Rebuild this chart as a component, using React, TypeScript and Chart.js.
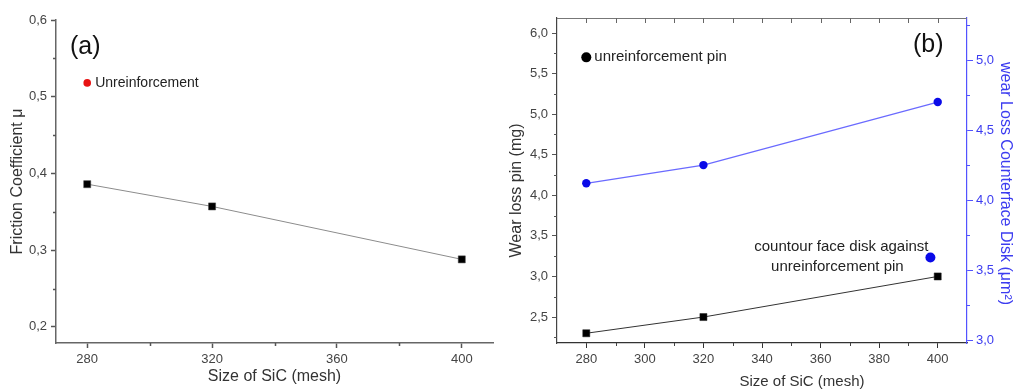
import React, { useEffect, useRef } from 'react';
import { Chart, registerables } from 'chart.js';
Chart.register(...registerables);

const FONT = "'Liberation Sans', Arial, sans-serif";

// ---------- (a) friction coefficient ----------
const meshA = [280, 320, 400];
const frictionA = [0.386, 0.357, 0.288];
const unreinfMeshA = [280];
const unreinfFrictionA = [0.518];
const xTicksA = [280, 320, 360, 400];
const xMinorA = [300, 340, 380];
const yTicksA = [0.2, 0.3, 0.4, 0.5, 0.6];
const yMinorA = [0.25, 0.35, 0.45, 0.55];

// ---------- (b) wear loss ----------
const meshB = [280, 320, 400];
const wearPinB = [2.3, 2.5, 3.0];
const wearDiskB = [4.12, 4.25, 4.7];
const unreinfPinMesh = [280];
const unreinfPinWear = [5.7];
const unreinfDiskMesh = [397.5];
const unreinfDiskWear = [3.59];
const xTicksB = [280, 300, 320, 340, 360, 380, 400];
const xMinorB = [290, 310, 330, 350, 370, 390];
const xTopB = [280, 290, 300, 310, 320, 330, 340, 350, 360, 370, 380, 390, 400];
const yTicksB = [2.5, 3.0, 3.5, 4.0, 4.5, 5.0, 5.5, 6.0];
const yMinorB = [2.25, 2.75, 3.25, 3.75, 4.25, 4.75, 5.25, 5.75];
const y2TicksB = [3.0, 3.5, 4.0, 4.5, 5.0];
const y2MinorB = [3.25, 3.75, 4.25, 4.75, 5.25];

const BLUE_PT = '#0a0ae8';
const BLUE_LINE = '#6a6aff';
const BLUE_AXIS = '#5252ff';
const BLUE_TEXT = '#3c3cf0';

const fmt = (v: number) => v.toFixed(1).replace('.', ',');

function drawTickSet(
  ctx: CanvasRenderingContext2D,
  side: 'left' | 'right' | 'bottom' | 'top',
  scale: any,
  values: number[],
  area: any,
  len: number,
  color: string,
  width: number
) {
  ctx.save();
  ctx.strokeStyle = color;
  ctx.lineWidth = width;
  ctx.beginPath();
  for (const v of values) {
    const p = Math.round(scale.getPixelForValue(v)) + 0.5;
    if (side === 'left') {
      ctx.moveTo(area.left, p);
      ctx.lineTo(area.left - len, p);
    } else if (side === 'right') {
      ctx.moveTo(area.right, p);
      ctx.lineTo(area.right + len, p);
    } else if (side === 'bottom') {
      ctx.moveTo(p, area.bottom);
      ctx.lineTo(p, area.bottom + len);
    } else {
      ctx.moveTo(p, area.top);
      ctx.lineTo(p, area.top + len);
    }
  }
  ctx.stroke();
  ctx.restore();
}

const decoA = {
  id: 'decoA',
  afterDraw(chart: any) {
    const { ctx, chartArea, scales } = chart;
    const x = scales.x;
    const y = scales.y;
    drawTickSet(ctx, 'bottom', x, xMinorA, chartArea, 3, '#555', 1.5);
    drawTickSet(ctx, 'left', y, yMinorA, chartArea, 3, '#555', 1.5);
    ctx.save();
    ctx.textBaseline = 'middle';
    ctx.textAlign = 'left';
    ctx.fillStyle = '#111';
    ctx.font = `25px ${FONT}`;
    ctx.fillText('(a)', chartArea.left + 14, chartArea.top + 27);
    const px = x.getPixelForValue(unreinfMeshA[0]);
    const py = y.getPixelForValue(unreinfFrictionA[0]);
    ctx.font = `14px ${FONT}`;
    ctx.fillStyle = '#222';
    ctx.fillText('Unreinforcement', px + 8, py);
    ctx.restore();
  },
};

const decoB = {
  id: 'decoB',
  afterDraw(chart: any) {
    const { ctx, chartArea, scales } = chart;
    const x = scales.x;
    const y = scales.y;
    const y2 = scales.y2;
    // top frame
    ctx.save();
    ctx.strokeStyle = '#777';
    ctx.lineWidth = 1;
    ctx.beginPath();
    ctx.moveTo(chartArea.left, Math.round(chartArea.top) + 0.5);
    ctx.lineTo(chartArea.right, Math.round(chartArea.top) + 0.5);
    ctx.stroke();
    ctx.restore();
    drawTickSet(ctx, 'top', x, xTopB, chartArea, 5, '#666', 1);
    drawTickSet(ctx, 'bottom', x, xMinorB, chartArea, 3, '#444', 1);
    drawTickSet(ctx, 'left', y, yMinorB, chartArea, 3, '#555', 1);
    drawTickSet(ctx, 'right', y2, y2MinorB, chartArea, 3, BLUE_AXIS, 1);

    const midY = (chartArea.top + chartArea.bottom) / 2;
    const midX = (chartArea.left + chartArea.right) / 2;

    ctx.save();
    ctx.textBaseline = 'middle';
    ctx.textAlign = 'left';
    ctx.fillStyle = '#111';
    ctx.font = `25px ${FONT}`;
    ctx.fillText('(b)', chartArea.right - 54, chartArea.top + 27);

    const px = x.getPixelForValue(unreinfPinMesh[0]);
    const py = y.getPixelForValue(unreinfPinWear[0]);
    ctx.font = `15px ${FONT}`;
    ctx.fillStyle = '#222';
    ctx.fillText('unreinforcement pin', px + 8, py);

    const qx = x.getPixelForValue(unreinfDiskMesh[0]);
    const qy = y2.getPixelForValue(unreinfDiskWear[0]);
    ctx.textAlign = 'center';
    ctx.fillText('countour face disk against', qx - 89, qy - 11);
    ctx.fillText('unreinforcement pin', qx - 93, qy + 9);

    // axis titles
    ctx.fillStyle = '#333';
    ctx.font = `15px ${FONT}`;
    ctx.fillText('Size of SiC (mesh)', midX + 40, chart.height - 8);

    ctx.save();
    ctx.font = `16px ${FONT}`;
    ctx.translate(17, midY + 10);
    ctx.rotate(-Math.PI / 2);
    ctx.fillText('Wear loss pin (mg)', 0, 0);
    ctx.restore();

    ctx.save();
    ctx.font = `16px ${FONT}`;
    ctx.fillStyle = BLUE_TEXT;
    ctx.translate(chart.width - 8, midY + 3);
    ctx.rotate(Math.PI / 2);
    ctx.fillText('wear Loss Counterface Disk (μm²)', 0, 0);
    ctx.restore();

    ctx.restore();
  },
};

const commonPlugins = { legend: { display: false }, tooltip: { enabled: false } };

const makeA = () => ({
  type: 'scatter',
  data: {
    datasets: [
      {
        data: unreinfMeshA.map((x, i) => ({ x, y: unreinfFrictionA[i] })),
        pointStyle: 'circle',
        pointRadius: 3.8,
        pointBackgroundColor: '#e81212',
        pointBorderColor: '#e81212',
        pointBorderWidth: 0,
        showLine: false,
      },
      {
        data: meshA.map((x, i) => ({ x, y: frictionA[i] })),
        showLine: true,
        borderColor: '#8c8c8c',
        borderWidth: 1,
        tension: 0,
        pointStyle: 'rect',
        pointRadius: 5,
        pointBackgroundColor: '#000',
        pointBorderColor: '#444',
        pointBorderWidth: 0.5,
      },
    ],
  },
  options: {
    responsive: false,
    animation: false,
    layout: { padding: { left: 0, right: 7, top: 20, bottom: 0 } },
    plugins: commonPlugins,
    scales: {
      x: {
        type: 'linear',
        min: 270,
        max: 410,
        afterBuildTicks: (s: any) => {
          s.ticks = xTicksA.map((v) => ({ value: v }));
        },
        afterFit: (s: any) => {
          s.height = 47;
        },
        ticks: {
          callback: (v: any) => String(v),
          font: { family: FONT, size: 13 },
          color: '#444',
          padding: 4,
          maxRotation: 0,
          autoSkip: false,
        },
        grid: { display: true, drawOnChartArea: false, drawTicks: true, tickLength: 5, tickColor: '#555', tickWidth: 1.5 },
        border: { display: true, color: '#666', width: 1.5 },
        title: {
          display: true,
          text: 'Size of SiC (mesh)',
          font: { family: FONT, size: 16 },
          color: '#333',
          padding: { top: 0, bottom: 4 },
        },
      },
      y: {
        type: 'linear',
        min: 0.179,
        max: 0.6,
        afterBuildTicks: (s: any) => {
          s.ticks = yTicksA.map((v) => ({ value: v }));
        },
        afterFit: (s: any) => {
          s.width = 56;
        },
        ticks: {
          callback: (v: any) => fmt(Number(v)),
          font: { family: FONT, size: 13 },
          color: '#444',
          padding: 4,
          autoSkip: false,
        },
        grid: { display: true, drawOnChartArea: false, drawTicks: true, tickLength: 5, tickColor: '#555', tickWidth: 1.5 },
        border: { display: true, color: '#666', width: 1.5 },
        title: {
          display: true,
          text: 'Friction Coefficient μ',
          font: { family: FONT, size: 16 },
          color: '#333',
          padding: { top: 8, bottom: 0 },
        },
      },
    },
  },
  plugins: [decoA],
});

const makeB = () => ({
  type: 'scatter',
  data: {
    datasets: [
      {
        data: unreinfPinMesh.map((x, i) => ({ x, y: unreinfPinWear[i] })),
        yAxisID: 'y',
        pointStyle: 'circle',
        pointRadius: 5,
        pointBackgroundColor: '#000',
        pointBorderColor: '#000',
        pointBorderWidth: 0,
        showLine: false,
      },
      {
        data: unreinfDiskMesh.map((x, i) => ({ x, y: unreinfDiskWear[i] })),
        yAxisID: 'y2',
        pointStyle: 'circle',
        pointRadius: 5,
        pointBackgroundColor: BLUE_PT,
        pointBorderColor: BLUE_PT,
        pointBorderWidth: 0,
        showLine: false,
      },
      {
        data: meshB.map((x, i) => ({ x, y: wearPinB[i] })),
        yAxisID: 'y',
        showLine: true,
        borderColor: '#333',
        borderWidth: 1,
        tension: 0,
        pointStyle: 'rect',
        pointRadius: 5,
        pointBackgroundColor: '#000',
        pointBorderColor: '#222',
        pointBorderWidth: 0.5,
      },
      {
        data: meshB.map((x, i) => ({ x, y: wearDiskB[i] })),
        yAxisID: 'y2',
        showLine: true,
        borderColor: BLUE_LINE,
        borderWidth: 1.2,
        tension: 0,
        pointStyle: 'circle',
        pointRadius: 4.2,
        pointBackgroundColor: BLUE_PT,
        pointBorderColor: BLUE_PT,
        pointBorderWidth: 0,
      },
    ],
  },
  options: {
    responsive: false,
    animation: false,
    layout: { padding: { left: 0, right: 0, top: 18, bottom: 0 } },
    plugins: commonPlugins,
    scales: {
      x: {
        type: 'linear',
        min: 270,
        max: 410,
        afterBuildTicks: (s: any) => {
          s.ticks = xTicksB.map((v) => ({ value: v }));
        },
        afterFit: (s: any) => {
          s.height = 47;
        },
        ticks: {
          callback: (v: any) => String(v),
          font: { family: FONT, size: 13 },
          color: '#444',
          padding: 4,
          maxRotation: 0,
          autoSkip: false,
        },
        grid: { display: true, drawOnChartArea: false, drawTicks: true, tickLength: 5, tickColor: '#333', tickWidth: 1 },
        border: { display: true, color: '#333', width: 1.2 },
        title: { display: false },
      },
      y: {
        type: 'linear',
        position: 'left',
        min: 2.18,
        max: 6.185,
        afterBuildTicks: (s: any) => {
          s.ticks = yTicksB.map((v) => ({ value: v }));
        },
        afterFit: (s: any) => {
          s.width = 57;
        },
        ticks: {
          callback: (v: any) => fmt(Number(v)),
          font: { family: FONT, size: 13 },
          color: '#444',
          padding: 4,
          autoSkip: false,
        },
        grid: { display: true, drawOnChartArea: false, drawTicks: true, tickLength: 5, tickColor: '#555', tickWidth: 1 },
        border: { display: true, color: '#444', width: 1.2 },
        title: { display: false },
      },
      y2: {
        type: 'linear',
        position: 'right',
        min: 2.98,
        max: 5.3,
        afterBuildTicks: (s: any) => {
          s.ticks = y2TicksB.map((v) => ({ value: v }));
        },
        afterFit: (s: any) => {
          s.width = 46;
        },
        ticks: {
          callback: (v: any) => fmt(Number(v)),
          font: { family: FONT, size: 13 },
          color: BLUE_TEXT,
          padding: 3,
          autoSkip: false,
        },
        grid: { display: true, drawOnChartArea: false, drawTicks: true, tickLength: 6, tickColor: BLUE_AXIS, tickWidth: 1 },
        border: { display: true, color: BLUE_AXIS, width: 1.2 },
        title: { display: false },
      },
    },
  },
  plugins: [decoB],
});

function ChartBox({ left, width, make }: { left: number; width: number; make: () => any }) {
  const ref = useRef<HTMLCanvasElement>(null);
  useEffect(() => {
    const chart = new Chart(ref.current as HTMLCanvasElement, make());
    return () => chart.destroy();
  }, []);
  return (
    <canvas
      ref={ref}
      width={width}
      height={390}
      style={{ position: 'absolute', left, top: 0, width, height: 390 }}
    />
  );
}

export default function App() {
  return (
    <div style={{ position: 'absolute', left: 0, top: 0, width: 1013, height: 390, background: '#fff' }}>
      <ChartBox left={0} width={500} make={makeA} />
      <ChartBox left={500} width={513} make={makeB} />
    </div>
  );
}
